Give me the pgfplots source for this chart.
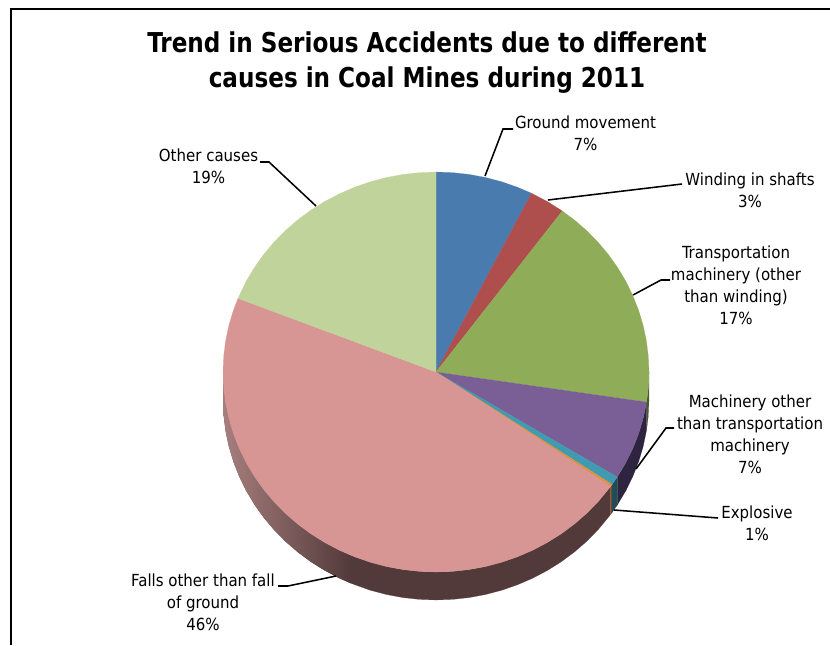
\documentclass[border=0pt]{standalone}
\usepackage{fontspec}
\setmainfont{DejaVu Sans Condensed}
\newfontfamily\titlefont[FakeStretch=0.94]{DejaVu Sans Condensed}
\usepackage{pgfplots}
\usepackage{pgfplotstable}
\pgfplotsset{compat=1.18}

\definecolor{cGround}{HTML}{4A7BAF}
\definecolor{cWinding}{HTML}{AE4F4D}
\definecolor{cTransport}{HTML}{8FAC58}
\definecolor{cMachinery}{HTML}{7A5E96}
\definecolor{cExplosive}{HTML}{3F9AB2}
\definecolor{cOrange}{HTML}{E0913F}
\definecolor{cFalls}{HTML}{D79694}
\definecolor{cOther}{HTML}{BFD39B}
\definecolor{sTransport}{HTML}{4A5A2C}
\definecolor{sMachinery}{HTML}{2E2440}
\definecolor{sExplosive}{HTML}{1F4C59}
\definecolor{sOrange}{HTML}{75491F}
\definecolor{sFalls}{HTML}{533A3A}
\definecolor{sFallsLight}{HTML}{A67F7E}

% Top faces: p is the position round the pie in percent, clockwise from
% twelve o'clock; r is 0 at the centre and 1 on the rim.
\pgfplotstableread[row sep=\\]{p r\\ 0 0\\ 0 1\\ 1.25 1\\ 2.5 1\\ 3.75 1\\ 5 1\\ 6.25 1\\ 7.4 1\\ 7.4 0\\}\tGround
\pgfplotstableread[row sep=\\]{p r\\ 7.4 0\\ 7.4 1\\ 8.75 1\\ 10.1 1\\ 10.1 0\\}\tWinding
\pgfplotstableread[row sep=\\]{p r\\ 10.1 0\\ 10.1 1\\ 11.25 1\\ 12.5 1\\ 13.75 1\\ 15 1\\ 16.25 1\\ 17.5 1\\ 18.75 1\\ 20 1\\ 21.25 1\\ 22.5 1\\ 23.75 1\\ 25 1\\ 26.25 1\\ 27.4 1\\ 27.4 0\\}\tTransport
\pgfplotstableread[row sep=\\]{p r\\ 27.4 0\\ 27.4 1\\ 28.75 1\\ 30 1\\ 31.25 1\\ 32.5 1\\ 33.8 1\\ 33.8 0\\}\tMachinery
\pgfplotstableread[row sep=\\]{p r\\ 33.8 0\\ 33.8 1\\ 34.5 1\\ 34.5 0\\}\tExplosive
\pgfplotstableread[row sep=\\]{p r\\ 34.5 0\\ 34.5 1\\ 34.7 1\\ 34.7 0\\}\tOrange
\pgfplotstableread[row sep=\\]{p r\\ 34.7 0\\ 34.7 1\\ 36.25 1\\ 37.5 1\\ 38.75 1\\ 40 1\\ 41.25 1\\ 42.5 1\\ 43.75 1\\ 45 1\\ 46.25 1\\ 47.5 1\\ 48.75 1\\ 50 1\\ 51.25 1\\ 52.5 1\\ 53.75 1\\ 55 1\\ 56.25 1\\ 57.5 1\\ 58.75 1\\ 60 1\\ 61.25 1\\ 62.5 1\\ 63.75 1\\ 65 1\\ 66.25 1\\ 67.5 1\\ 68.75 1\\ 70 1\\ 71.25 1\\ 72.5 1\\ 73.75 1\\ 75 1\\ 76.25 1\\ 77.5 1\\ 78.75 1\\ 80 1\\ 81 1\\ 81 0\\}\tFalls
\pgfplotstableread[row sep=\\]{p r\\ 81 0\\ 81 1\\ 82.5 1\\ 83.75 1\\ 85 1\\ 86.25 1\\ 87.5 1\\ 88.75 1\\ 90 1\\ 91.25 1\\ 92.5 1\\ 93.75 1\\ 95 1\\ 96.25 1\\ 97.5 1\\ 98.75 1\\ 100 1\\ 100 0\\}\tOther

% Side walls: d is 0 on the upper rim and 1 on the lower rim.
\pgfplotstableread[row sep=\\]{p d\\ 25 0\\ 26.25 0\\ 27.4 0\\ 27.4 1\\ 26.25 1\\ 25 1\\}\sideTransport
\pgfplotstableread[row sep=\\]{p d\\ 27.4 0\\ 28.75 0\\ 30 0\\ 31.25 0\\ 32.5 0\\ 33.8 0\\ 33.8 1\\ 32.5 1\\ 31.25 1\\ 30 1\\ 28.75 1\\ 27.4 1\\}\sideMachinery
\pgfplotstableread[row sep=\\]{p d\\ 33.8 0\\ 34.5 0\\ 34.5 1\\ 33.8 1\\}\sideExplosive
\pgfplotstableread[row sep=\\]{p d\\ 34.5 0\\ 34.7 0\\ 34.7 1\\ 34.5 1\\}\sideOrange
\pgfplotstableread[row sep=\\]{p d\\ 34.7 0\\ 36.25 0\\ 37.5 0\\ 38.75 0\\ 40 0\\ 41.25 0\\ 42.5 0\\ 43.75 0\\ 45 0\\ 46.25 0\\ 47.5 0\\ 48.75 0\\ 50 0\\ 51.25 0\\ 52.5 0\\ 53.75 0\\ 55 0\\ 56.6 0\\ 56.6 1\\ 55 1\\ 53.75 1\\ 52.5 1\\ 51.25 1\\ 50 1\\ 48.75 1\\ 47.5 1\\ 46.25 1\\ 45 1\\ 43.75 1\\ 42.5 1\\ 41.25 1\\ 40 1\\ 38.75 1\\ 37.5 1\\ 36.25 1\\ 34.7 1\\}\sideFallsDark
\pgfplotstableread[row sep=\\]{p d\\ 56.6 0\\ 57.5 0\\ 58.75 0\\ 60 0\\ 61.25 0\\ 62.5 0\\ 63.75 0\\ 65 0\\ 66.25 0\\ 67.5 0\\ 68.75 0\\ 70 0\\ 71.25 0\\ 72.5 0\\ 73.75 0\\ 75 0\\ 75 1\\ 73.75 1\\ 72.5 1\\ 71.25 1\\ 70 1\\ 68.75 1\\ 67.5 1\\ 66.25 1\\ 65 1\\ 63.75 1\\ 62.5 1\\ 61.25 1\\ 60 1\\ 58.75 1\\ 57.5 1\\ 56.6 1\\}\sideFallsFade

\pgfplotsset{
  topface/.style={draw=#1, fill=#1, line width=0.1pt, mark=none},
  sideface/.style={draw=#1, fill=#1, line width=0.1pt, mark=none},
  leader/.style={black, line width=1.15pt, mark=none},
}
\newcommand{\topslice}[2]{\addplot[topface=#1] table[
    x expr={436+213*\thisrow{r}*sin(3.6*\thisrow{p})},
    y expr={372-200*\thisrow{r}*cos(3.6*\thisrow{p})}] {#2};}
\newcommand{\sideslice}[3][]{\addplot[sideface=#2,#1] table[
    x expr={436+213*sin(3.6*\thisrow{p})},
    y expr={372-200*cos(3.6*\thisrow{p})+28*\thisrow{d}}] {#3};}

\tikzset{
  lab/.style={align=center, inner sep=0pt, text=black, font=\fontsize{12.5pt}{16.6pt}\selectfont},
  ttl/.style={align=center, inner sep=0pt, text=black, font=\titlefont\fontsize{20.5pt}{26.2pt}\selectfont\bfseries},
}

\begin{document}
\begin{tikzpicture}
\useasboundingbox (0,0) rectangle (622.5pt,483.75pt);
\begin{axis}[
  scale only axis, width=622.5pt, height=483.75pt,
  xmin=0, xmax=830, ymin=0, ymax=645, y dir=reverse,
  hide axis, clip=false,
]
% outer frame
\addplot[black, line width=2.2pt, mark=none] coordinates {(11,645) (11,9) (830,9)};

% side walls
\sideslice{sTransport}{\sideTransport}
\sideslice{sMachinery}{\sideMachinery}
\sideslice{sExplosive}{\sideExplosive}
\sideslice{sOrange}{\sideOrange}
\sideslice{sFalls}{\sideFallsDark}
\sideslice[draw=none, left color=sFallsLight, right color=sFalls]{sFalls}{\sideFallsFade}

% top faces
\topslice{cGround}{\tGround}
\topslice{cWinding}{\tWinding}
\topslice{cTransport}{\tTransport}
\topslice{cMachinery}{\tMachinery}
\topslice{cExplosive}{\tExplosive}
\topslice{cOrange}{\tOrange}
\topslice{cFalls}{\tFalls}
\topslice{cOther}{\tOther}

% leader lines
\addplot[leader] coordinates {(485,176) (503,129) (513,129)};
\addplot[leader] coordinates {(548,200) (682,184)};
\addplot[leader] coordinates {(633,295) (661,280) (670,280)};
\addplot[leader] coordinates {(636,469) (666,428) (674,428)};
\addplot[leader] coordinates {(614,510) (718,518)};
\addplot[leader] coordinates {(316,206) (269,162) (260,162)};
\addplot[leader] coordinates {(336,576) (288,586) (278,586)};

% title and labels
\node[ttl] at (axis cs:427,62.5)
  {Trend in Serious Accidents due to different\\causes in Coal Mines during 2011};
\node[lab] at (axis cs:585.5,133.5) {Ground movement\\7\%};
\node[lab] at (axis cs:750,190.5) {Winding in shafts\\3\%};
\node[lab] at (axis cs:736,285.5) {Transportation\\machinery (other\\than winding)\\17\%};
\node[lab] at (axis cs:750,434) {Machinery other\\than transportation\\machinery\\7\%};
\node[lab] at (axis cs:757,523) {Explosive\\1\%};
\node[lab] at (axis cs:208.5,166.5) {Other causes\\19\%};
\node[lab] at (axis cs:203,602) {Falls other than fall\\of ground\\46\%};
\end{axis}
\end{tikzpicture}
\end{document}
